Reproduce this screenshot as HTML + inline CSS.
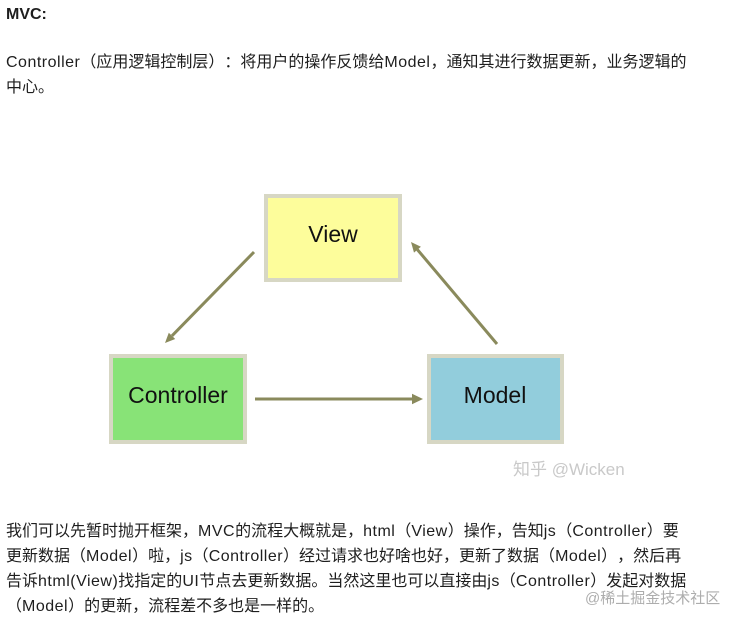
<!DOCTYPE html>
<html>
<head>
<meta charset="utf-8">
<style>
  html, body { margin:0; padding:0; background:#ffffff; }
  body { width:740px; height:627px; position:relative; overflow:hidden;
         font-family:"Liberation Sans","Noto Sans CJK SC",sans-serif; color:#1e1e1e;
         text-spacing-trim: space-all; }
  .ln { position:absolute; left:6px; font-size:16px; line-height:25px; white-space:nowrap; text-spacing-trim: space-all; }
  .l { letter-spacing:0.5px; }
  .b { font-weight:bold; }
  svg { position:absolute; left:0; top:0; }
  .wm1 { position:absolute; left:513px; top:458px; font-size:17px; line-height:24px; color:#c9c9c9; white-space:nowrap; }
  .wm2 { position:absolute; left:585px; top:588px; font-size:15px; line-height:22px; color:#adadad; white-space:nowrap; }
</style>
</head>
<body>
<div class="ln b" style="top:2px;">MVC:</div>
<div class="ln" style="top:50px;"><span class="l">Controller</span>（应用逻辑控制层）：将用户的操作反馈给<span class="l">Model</span>，通知其进行数据更新，业务逻辑的</div>
<div class="ln" style="top:75px;">中心。</div>

<svg width="740" height="627" viewBox="0 0 740 627" xmlns="http://www.w3.org/2000/svg">
  <rect x="266" y="196" width="134" height="84" fill="#fdfd9b" stroke="#d7d7c4" stroke-width="4"/>
  <rect x="111" y="356" width="134" height="86" fill="#88e377" stroke="#d7d7c4" stroke-width="4"/>
  <rect x="429" y="356" width="133" height="86" fill="#92cddc" stroke="#d7d7c4" stroke-width="4"/>
  <text x="333" y="242" font-family="Liberation Sans, sans-serif" font-size="23" text-anchor="middle" fill="#111">View</text>
  <text x="178" y="403" font-family="Liberation Sans, sans-serif" font-size="23" text-anchor="middle" fill="#111">Controller</text>
  <text x="495" y="403" font-family="Liberation Sans, sans-serif" font-size="23" text-anchor="middle" fill="#111">Model</text>
  <g stroke="#8a8a5c" stroke-width="3" fill="none" stroke-linecap="butt">
    <line x1="254" y1="252" x2="172" y2="335.8"/>
    <line x1="497" y1="344" x2="417.4" y2="249.6"/>
    <line x1="255" y1="399" x2="413" y2="399"/>
  </g>
  <g fill="#8a8a5c">
    <polygon points="165,343 175.2,339 168.8,332.7"/>
    <polygon points="411,242 420.9,246.7 414,252.6"/>
    <polygon points="423,399 412,393.8 412,404.2"/>
  </g>
</svg>

<div class="wm1">知乎 @Wicken</div>

<div class="ln" style="top:519px;">我们可以先暂时抛开框架，<span class="l">MVC</span>的流程大概就是，<span class="l">html</span>（<span class="l">View</span>）操作，告知<span class="l">js</span>（<span class="l">Controller</span>）要</div>
<div class="ln" style="top:544px;">更新数据（<span class="l">Model</span>）啦，<span class="l">js</span>（<span class="l">Controller</span>）经过请求也好啥也好，更新了数据（<span class="l">Model</span>），然后再</div>
<div class="ln" style="top:569px;">告诉<span class="l">html(View)</span>找指定的<span class="l">UI</span>节点去更新数据。当然这里也可以直接由<span class="l">js</span>（<span class="l">Controller</span>）发起对数据</div>
<div class="ln" style="top:594px;">（<span class="l">Model</span>）的更新，流程差不多也是一样的。</div>

<div class="wm2">@稀土掘金技术社区</div>
</body>
</html>
